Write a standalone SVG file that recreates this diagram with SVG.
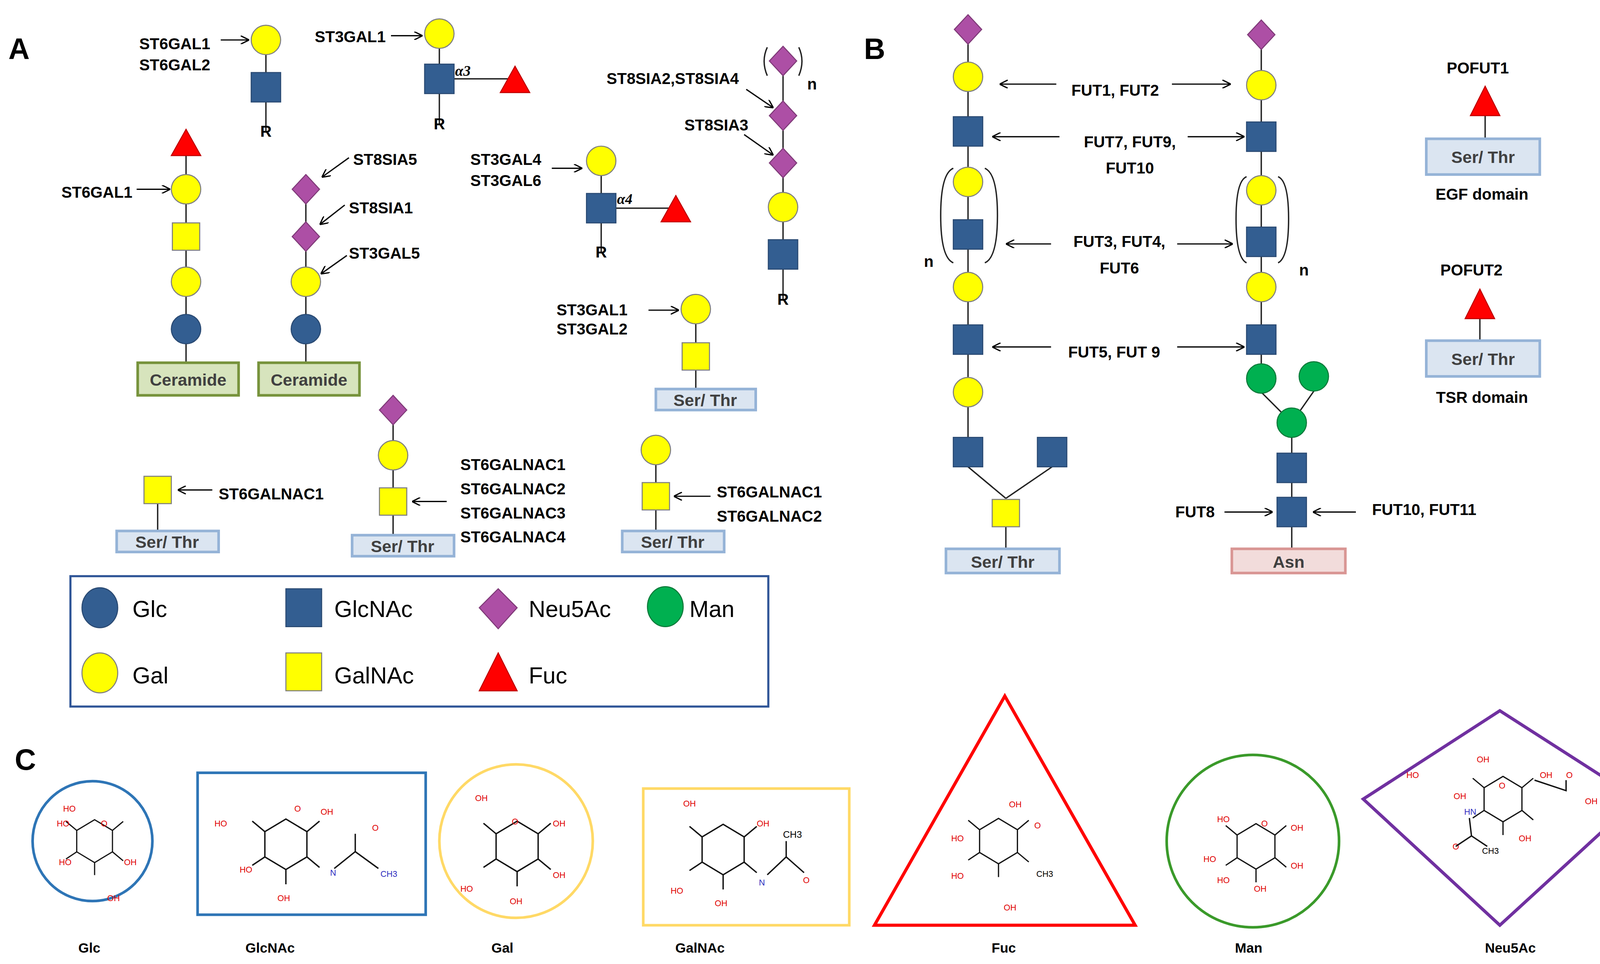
<svg xmlns="http://www.w3.org/2000/svg" width="4219" height="2467" viewBox="0 0 4219 2467">
<style>
.l{font-family:"Liberation Sans",Arial,sans-serif;font-weight:bold;font-size:15px;fill:#000}
.big{font-family:"Liberation Sans",Arial,sans-serif;font-weight:bold;font-size:28px}
.lg{font-family:"Liberation Sans",Arial,sans-serif;font-size:22px}
.bx{font-family:"Liberation Sans",Arial,sans-serif;font-weight:bold;font-size:16px;fill:#404040}
.c{font-family:"Liberation Sans",Arial,sans-serif;font-size:8px;fill:#e00000}
.cn{font-family:"Liberation Sans",Arial,sans-serif;font-size:8px;fill:#3030c0}
.cap{font-family:"Liberation Sans",Arial,sans-serif;font-weight:bold;font-size:13px}
.ln{stroke:#222;stroke-width:1.3;fill:none}
.ar line{stroke:#000;stroke-width:1.2;marker-end:url(#ah)}
.bond{stroke:#111;stroke-width:1.3;fill:none}
.ser{fill:#dbe5f1;stroke:#95b3d7;stroke-width:2.5}
.cer{fill:#d7e4bd;stroke:#77933c;stroke-width:2.5}
.asn{fill:#f2dcdb;stroke:#d99694;stroke-width:2.5}
</style>
<defs>
<marker id="ah" markerWidth="8" markerHeight="8" refX="7" refY="4" orient="auto" markerUnits="userSpaceOnUse"><path d="M0,0 L8,4 L0,8" fill="none" stroke="#000" stroke-width="1.2"/></marker>
<circle id="gal" r="14" fill="#ffff00" stroke="#7f7f7f" stroke-width="1"/>
<circle id="glc" r="14" fill="#335e91" stroke="#2a4a73" stroke-width="1"/>
<circle id="man" r="14" fill="#00b050" stroke="#0a7a3a" stroke-width="1"/>
<rect id="gn" x="-14" y="-14" width="28" height="28" fill="#335e91" stroke="#2a4a73" stroke-width="1"/>
<rect id="ga" x="-13" y="-13" width="26" height="26" fill="#ffff00" stroke="#7f7f7f" stroke-width="1"/>
<polygon id="neu" points="0,-14 13,0 0,14 -13,0" fill="#ad4fa5" stroke="#7f3a78" stroke-width="1"/>
<polygon id="fuc" points="0,-14 14,11 -14,11" fill="#ff0000" stroke="#c00000" stroke-width="1"/>
<g id="ring"><path class="bond" d="M0,-24 L20,-12 L20,12 L0,24 L-20,12 L-20,-12 Z"/><path class="bond" d="M-20,-12 L-32,-22 M-20,12 L-32,20 M0,24 L0,38 M20,12 L32,22 M20,-12 L32,-22"/></g>
</defs>
<g transform="scale(2.6907)">
<g id="connectors">
<path class="ln" d="M253,38V125M418,32V118M418,75H490M177,135V345M291,180V345M572,153V240M572,198H643M745,58V285M662,294V370M150,466V505M374,390V509M624,428V505M921,28V430M921,444L957,474M1001,444L957,474M957,488V522M1200,33V360M1200,373L1229,402M1250,372L1229,402M1229,402V522M1413,97V132M1408,290V324"/>
<g class="ar">
<line x1="210" y1="38" x2="236" y2="38"/><line x1="372" y1="34" x2="401" y2="34"/><line x1="130" y1="180" x2="161" y2="180"/>
<line x1="332" y1="150" x2="307" y2="168"/><line x1="328" y1="195" x2="305" y2="213"/><line x1="330" y1="243" x2="306" y2="260"/>
<line x1="525" y1="160" x2="553" y2="160"/><line x1="710" y1="85" x2="735" y2="102"/><line x1="708" y1="128" x2="735" y2="147"/>
<line x1="617" y1="295" x2="645" y2="295"/><line x1="202" y1="466" x2="170" y2="466"/><line x1="425" y1="477" x2="393" y2="477"/>
<line x1="676" y1="472" x2="642" y2="472"/><line x1="1005" y1="80" x2="952" y2="80"/><line x1="1115" y1="80" x2="1170" y2="80"/>
<line x1="1008" y1="130" x2="945" y2="130"/><line x1="1130" y1="130" x2="1183" y2="130"/><line x1="1000" y1="232" x2="958" y2="232"/>
<line x1="1120" y1="232" x2="1172" y2="232"/><line x1="1000" y1="330" x2="945" y2="330"/><line x1="1120" y1="330" x2="1183" y2="330"/>
<line x1="1165" y1="487" x2="1210" y2="487"/><line x1="1290" y1="487" x2="1250" y2="487"/>
</g>
<path class="ln" d="M730,45Q724,58 730,72M760,45Q766,58 760,72M907,160Q895,165 895,205Q895,245 907,250M937,160Q949,165 949,205Q949,245 937,250M1186,168Q1176,172 1176,208Q1176,245 1186,250M1216,168Q1226,172 1226,208Q1226,245 1216,250"/>
</g>
<text class="big" x="8" y="56">A</text>
<text class="big" x="822" y="56">B</text>
<text class="big" x="14" y="732">C</text>
<g id="s1"><use href="#gal" x="253" y="38"/><use href="#gn" x="253" y="83"/><text class="l" x="253" y="130" text-anchor="middle" font-size="13">R</text>
<text class="l" x="200" y="47" text-anchor="end">ST6GAL1</text><text class="l" x="200" y="67" text-anchor="end">ST6GAL2</text></g>
<g id="s2"><use href="#gal" x="418" y="32"/><use href="#gn" x="418" y="75"/><use href="#fuc" x="490" y="77"/><text x="433" y="72" font-family="Liberation Serif" font-weight="bold" font-size="14" font-style="italic">α3</text><text class="l" x="418" y="123" text-anchor="middle" font-size="13">R</text><text class="l" x="367" y="40" text-anchor="end">ST3GAL1</text></g>
<g id="cer1"><use href="#fuc" x="177" y="137"/><use href="#gal" x="177" y="180"/><use href="#ga" x="177" y="225"/><use href="#gal" x="177" y="268"/><use href="#glc" x="177" y="313"/><rect class="cer" x="131" y="345" width="96" height="31"/><text class="bx" x="179" y="367" text-anchor="middle">Ceramide</text><text class="l" x="126" y="188" text-anchor="end">ST6GAL1</text></g>
<g id="cer2"><use href="#neu" x="291" y="180"/><use href="#neu" x="291" y="225"/><use href="#gal" x="291" y="268"/><use href="#glc" x="291" y="313"/><rect class="cer" x="246" y="345" width="96" height="31"/><text class="bx" x="294" y="367" text-anchor="middle">Ceramide</text>
<text class="l" x="336" y="157">ST8SIA5</text><text class="l" x="332" y="203">ST8SIA1</text><text class="l" x="332" y="246">ST3GAL5</text></g>
<g id="s3"><use href="#gal" x="572" y="153"/><use href="#gn" x="572" y="198"/><use href="#fuc" x="643" y="200"/><text x="587" y="194" font-family="Liberation Serif" font-weight="bold" font-size="14" font-style="italic">α4</text><text class="l" x="572" y="245" text-anchor="middle" font-size="13">R</text><text class="l" x="515" y="157" text-anchor="end">ST3GAL4</text><text class="l" x="515" y="177" text-anchor="end">ST3GAL6</text></g>
<g id="s4"><use href="#neu" x="745" y="58"/><use href="#neu" x="745" y="110"/><use href="#neu" x="745" y="155"/><use href="#gal" x="745" y="197"/><use href="#gn" x="745" y="242"/><text class="l" x="745" y="290" text-anchor="middle" font-size="13">R</text><text class="l" x="768" y="85">n</text><text class="l" x="703" y="80" text-anchor="end">ST8SIA2,ST8SIA4</text><text class="l" x="712" y="124" text-anchor="end">ST8SIA3</text></g>
<g id="s5"><use href="#gal" x="662" y="294"/><use href="#ga" x="662" y="339"/><rect class="ser" x="624" y="370" width="95" height="20"/><text class="bx" x="671" y="386" text-anchor="middle">Ser/ Thr</text><text class="l" x="597" y="300" text-anchor="end">ST3GAL1</text><text class="l" x="597" y="318" text-anchor="end">ST3GAL2</text></g>
<g id="s6"><use href="#ga" x="150" y="466"/><rect class="ser" x="111" y="505" width="97" height="20"/><text class="bx" x="159" y="521" text-anchor="middle">Ser/ Thr</text><text class="l" x="208" y="475">ST6GALNAC1</text></g>
<g id="s7"><use href="#neu" x="374" y="390"/><use href="#gal" x="374" y="433"/><use href="#ga" x="374" y="477"/><rect class="ser" x="335" y="509" width="97" height="20"/><text class="bx" x="383" y="525" text-anchor="middle">Ser/ Thr</text><text class="l" x="438" y="447">ST6GALNAC1</text><text class="l" x="438" y="470">ST6GALNAC2</text><text class="l" x="438" y="493">ST6GALNAC3</text><text class="l" x="438" y="516">ST6GALNAC4</text></g>
<g id="s8"><use href="#gal" x="624" y="428"/><use href="#ga" x="624" y="472"/><rect class="ser" x="592" y="505" width="97" height="20"/><text class="bx" x="640" y="521" text-anchor="middle">Ser/ Thr</text><text class="l" x="682" y="473">ST6GALNAC1</text><text class="l" x="682" y="496">ST6GALNAC2</text></g>
<g id="legend"><rect x="67" y="548" width="664" height="124" fill="#fff" stroke="#2f5597" stroke-width="2"/>
<ellipse cx="95" cy="578" rx="17" ry="19" fill="#335e91" stroke="#2a4a73"/><text class="lg" x="126" y="587">Glc</text>
<rect x="272" y="560" width="34" height="36" fill="#335e91" stroke="#2a4a73"/><text class="lg" x="318" y="587">GlcNAc</text>
<polygon points="474,560 492,578 474,598 456,578" fill="#ad4fa5" stroke="#7f3a78"/><text class="lg" x="503" y="587">Neu5Ac</text>
<ellipse cx="633" cy="577" rx="17" ry="19" fill="#00b050" stroke="#0a7a3a"/><text class="lg" x="656" y="587">Man</text>
<ellipse cx="95" cy="640" rx="17" ry="19" fill="#ffff00" stroke="#7f7f7f"/><text class="lg" x="126" y="650">Gal</text>
<rect x="272" y="621" width="34" height="36" fill="#ffff00" stroke="#7f7f7f"/><text class="lg" x="318" y="650">GalNAc</text>
<polygon points="474,621 492,657 456,657" fill="#ff0000" stroke="#c00000"/><text class="lg" x="503" y="650">Fuc</text></g>
<g id="b-left"><use href="#neu" x="921" y="28"/><use href="#gal" x="921" y="73"/><use href="#gn" x="921" y="125"/><use href="#gal" x="921" y="173"/><use href="#gn" x="921" y="223"/><use href="#gal" x="921" y="273"/><use href="#gn" x="921" y="323"/><use href="#gal" x="921" y="373"/><use href="#gn" x="921" y="430"/><use href="#gn" x="1001" y="430"/><use href="#ga" x="957" y="488"/><rect class="ser" x="900" y="522" width="108" height="23"/><text class="bx" x="954" y="540" text-anchor="middle">Ser/ Thr</text><text class="l" x="879" y="254">n</text></g>
<g id="b-right"><use href="#neu" x="1200" y="33"/><use href="#gal" x="1200" y="81"/><use href="#gn" x="1200" y="130"/><use href="#gal" x="1200" y="181"/><use href="#gn" x="1200" y="230"/><use href="#gal" x="1200" y="273"/><use href="#gn" x="1200" y="323"/><use href="#man" x="1200" y="360"/><use href="#man" x="1250" y="358"/><use href="#man" x="1229" y="402"/><use href="#gn" x="1229" y="445"/><use href="#gn" x="1229" y="487"/><rect class="asn" x="1172" y="522" width="108" height="23"/><text class="bx" x="1226" y="540" text-anchor="middle" fill="#5a2a2a">Asn</text><text class="l" x="1236" y="262">n</text></g>
<g id="b-labels"><text class="l" x="1061" y="91" text-anchor="middle">FUT1, FUT2</text><text class="l" x="1075" y="140" text-anchor="middle">FUT7, FUT9,</text><text class="l" x="1075" y="165" text-anchor="middle">FUT10</text><text class="l" x="1065" y="235" text-anchor="middle">FUT3, FUT4,</text><text class="l" x="1065" y="260" text-anchor="middle">FUT6</text><text class="l" x="1060" y="340" text-anchor="middle">FUT5, FUT 9</text><text class="l" x="1137" y="492" text-anchor="middle">FUT8</text><text class="l" x="1355" y="490" text-anchor="middle">FUT10, FUT11</text></g>
<g id="pofut1"><text class="l" x="1406" y="70" text-anchor="middle">POFUT1</text><polygon points="1413,82 1427,110 1399,110" fill="#ff0000" stroke="#c00000"/><rect class="ser" x="1357" y="132" width="108" height="34"/><text class="bx" x="1411" y="155" text-anchor="middle" font-size="17">Ser/ Thr</text><text class="l" x="1410" y="190" text-anchor="middle">EGF domain</text></g>
<g id="pofut2"><text class="l" x="1400" y="262" text-anchor="middle">POFUT2</text><polygon points="1408,275 1422,303 1394,303" fill="#ff0000" stroke="#c00000"/><rect class="ser" x="1357" y="324" width="108" height="34"/><text class="bx" x="1411" y="347" text-anchor="middle" font-size="17">Ser/ Thr</text><text class="l" x="1410" y="383" text-anchor="middle">TSR domain</text></g>
<g id="c-glc"><circle cx="88" cy="800" r="57" fill="none" stroke="#2e75b6" stroke-width="2.5"/><use href="#ring" transform="translate(90 800) scale(0.85)"/><text class="c" x="60" y="772">HO</text><text class="c" x="54" y="786">HO</text><text class="c" x="56" y="823">HO</text><text class="c" x="118" y="823">OH</text><text class="c" x="102" y="857">OH</text><text class="c" x="96" y="786">O</text></g>
<g id="c-glcnac"><rect x="188" y="735" width="217" height="135" fill="none" stroke="#2e75b6" stroke-width="2.5"/><use href="#ring" transform="translate(272 803)"/><text class="c" x="204" y="786">HO</text><text class="c" x="228" y="830">HO</text><text class="c" x="264" y="857">OH</text><text class="c" x="305" y="775">OH</text><text class="c" x="280" y="772">O</text><text class="cn" x="314" y="833">N</text><text class="c" x="354" y="790">O</text><path class="bond" d="M318,826L338,810L360,826M338,810V793"/><text class="cn" x="362" y="834">CH3</text></g>
<g id="c-gal"><circle cx="491" cy="800" r="73" fill="none" stroke="#ffd966" stroke-width="2.5"/><use href="#ring" transform="translate(492 805)"/><text class="c" x="452" y="762" font-size="11">OH</text><text class="c" x="438" y="848" font-size="11">HO</text><text class="c" x="485" y="860" font-size="11">OH</text><text class="c" x="526" y="835" font-size="11">OH</text><text class="c" x="526" y="786" font-size="11">OH</text><text class="c" x="487" y="784" font-size="10">O</text></g>
<g id="c-galnac"><rect x="612" y="750" width="196" height="130" fill="none" stroke="#ffd966" stroke-width="2.5"/><use href="#ring" transform="translate(688 808)"/><text class="c" x="650" y="767" font-size="10">OH</text><text class="c" x="638" y="850" font-size="10">HO</text><text class="c" x="680" y="862" font-size="10">OH</text><text class="c" x="720" y="786" font-size="10">OH</text><text class="cn" x="722" y="842" font-size="10">N</text><path class="bond" d="M730,832L748,815L765,830M748,815V800"/><text class="c" x="764" y="840" font-size="10">O</text><text x="745" y="797" font-family="Liberation Sans" font-size="9">CH3</text></g>
<g id="c-fuc"><polygon points="956,662 832,880 1080,880" fill="none" stroke="#ff0000" stroke-width="3"/><use href="#ring" transform="translate(950 800) scale(0.9)"/><text class="c" x="960" y="768">OH</text><text class="c" x="905" y="800">HO</text><text class="c" x="905" y="836">HO</text><text class="c" x="955" y="866">OH</text><text class="c" x="984" y="788">O</text><text x="986" y="834" font-family="Liberation Sans" font-size="8">CH3</text></g>
<g id="c-man"><circle cx="1192" cy="800" r="82" fill="none" stroke="#3a9a2a" stroke-width="2.5"/><use href="#ring" transform="translate(1195 805) scale(0.9)"/><text class="c" x="1158" y="782">HO</text><text class="c" x="1145" y="820">HO</text><text class="c" x="1158" y="840">HO</text><text class="c" x="1228" y="790">OH</text><text class="c" x="1228" y="826">OH</text><text class="c" x="1193" y="848">OH</text><text class="c" x="1200" y="786">O</text></g>
<g id="c-neu"><polygon points="1427,676 1558,760 1427,880 1297,760" fill="none" stroke="#7030a0" stroke-width="3"/><use href="#ring" transform="translate(1430 760) scale(0.9)"/><text class="c" x="1405" y="725">OH</text><text class="c" x="1338" y="740">HO</text><text class="c" x="1383" y="760">OH</text><text class="c" x="1465" y="740">OH</text><text class="c" x="1490" y="740">O</text><text class="c" x="1508" y="765">OH</text><text class="cn" x="1393" y="775">HN</text><text class="c" x="1445" y="800">OH</text><text class="c" x="1382" y="808">O</text><path class="bond" d="M1398,778L1400,795L1385,805M1400,795L1415,805M1460,742L1490,752V742"/><text x="1410" y="812" font-family="Liberation Sans" font-size="8">CH3</text><text class="c" x="1426" y="750">O</text></g>
<g id="captions"><text class="cap" x="85" y="906" text-anchor="middle">Glc</text><text class="cap" x="257" y="906" text-anchor="middle">GlcNAc</text><text class="cap" x="478" y="906" text-anchor="middle">Gal</text><text class="cap" x="666" y="906" text-anchor="middle">GalNAc</text><text class="cap" x="955" y="906" text-anchor="middle">Fuc</text><text class="cap" x="1188" y="906" text-anchor="middle">Man</text><text class="cap" x="1437" y="906" text-anchor="middle">Neu5Ac</text></g>
</g>
</svg>
